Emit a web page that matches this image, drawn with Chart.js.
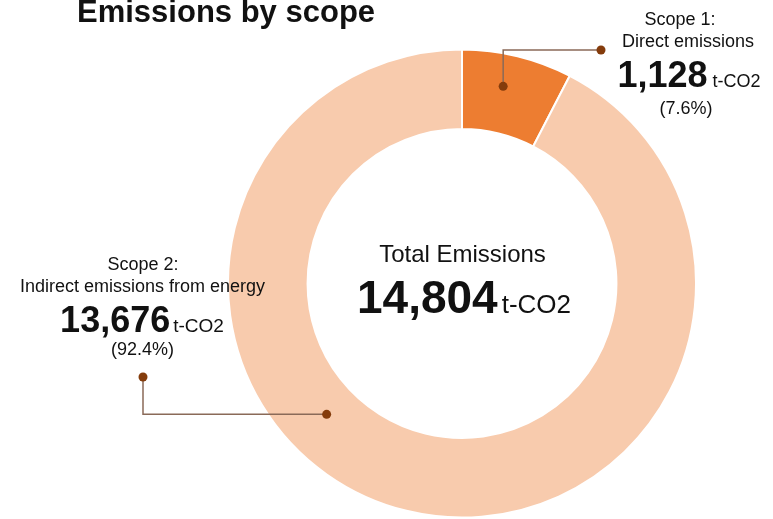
<!DOCTYPE html>
<html>
<head>
<meta charset="utf-8">
<script src="https://cdn.jsdelivr.net/npm/chart.js@4.4.0/dist/chart.umd.min.js"></script>
<style>
    html, body { margin: 0; background: #fff; }
    canvas { display: block; }
</style>
</head>
<body>
<canvas id="chart" width="773" height="519"></canvas>
<script>
const title = 'Emissions by scope'
const scopes = ['Scope 1:', 'Scope 2:']
const scopeNames = ['Direct emissions', 'Indirect emissions from energy']
const emissions = [1128, 13676]
const shares = ['(7.6%)', '(92.4%)']
const totalLabel = 'Total Emissions'
const total = 14804
const unit = 't-CO2'
const colors = ['#ED7D31', '#F8CBAD']

const FONT = '"Liberation Sans", Arial, sans-serif'
const fmt = n => n.toLocaleString('en-US')

// point inside an arc, as fractions of its angle span and ring width
function pointOn(arc, fa, fr) {
    const p = arc.getProps(['x', 'y', 'startAngle', 'endAngle', 'innerRadius', 'outerRadius'], true)
    const a = p.startAngle + fa * (p.endAngle - p.startAngle)
    const r = p.innerRadius + fr * (p.outerRadius - p.innerRadius)
    return { x: p.x + r * Math.cos(a), y: p.y + r * Math.sin(a) }
}

function text(ctx, str, x, y, size, bold, align = 'center') {
    ctx.font = (bold ? 'bold ' : '') + size + 'px ' + FONT
    ctx.textAlign = align
    ctx.fillText(str, x, y)
}

// big number followed by a smaller unit, centred as one group
function valueLine(ctx, value, cx, y, bigSize, unitSize, gap) {
    ctx.font = 'bold ' + bigSize + 'px ' + FONT
    const w1 = ctx.measureText(value).width
    ctx.font = unitSize + 'px ' + FONT
    const w2 = ctx.measureText(unit).width
    const x0 = cx - (w1 + gap + w2) / 2
    text(ctx, value, x0, y, bigSize, true, 'left')
    text(ctx, unit, x0 + w1 + gap, y, unitSize, false, 'left')
}

function dot(ctx, x, y) {
    ctx.beginPath()
    ctx.arc(x, y, 4.5, 0, Math.PI * 2)
    ctx.fill()
}

const labelsPlugin = {
    id: 'labels',
    afterDraw(chart) {
        const { ctx } = chart
        const arcs = chart.getDatasetMeta(0).data
        const cx = arcs[0].x
        ctx.save()
        ctx.textBaseline = 'alphabetic'
        ctx.fillStyle = '#111'

        // title
        text(ctx, title, 77, 22, 31, true, 'left')

        // centre
        text(ctx, totalLabel, cx + 0.5, 262, 24, false)
        valueLine(ctx, fmt(total), cx + 2, 313, 46, 26, 4)

        // scope 1 (right top)
        text(ctx, scopes[0], 680, 25, 18, false)
        text(ctx, scopeNames[0], 688, 47, 18, false)
        valueLine(ctx, fmt(emissions[0]), 689, 87, 36, 18, 5)
        text(ctx, shares[0], 686, 114, 18, false)

        // scope 2 (left)
        text(ctx, scopes[1], 143, 270, 18, false)
        text(ctx, scopeNames[1], 142.5, 292, 18, false)
        valueLine(ctx, fmt(emissions[1]), 142, 332, 36, 19, 3)
        text(ctx, shares[1], 142.5, 355, 18, false)

        // leader lines
        const p1 = pointOn(arcs[0], 0.43, 0.59)
        const p2 = pointOn(arcs[1], 0.597, 0.425)
        const l1 = { x: 601, y: 50 }
        const l2 = { x: 143, y: 377 }
        ctx.strokeStyle = '#8a6a58'
        ctx.lineWidth = 1.5
        ctx.beginPath()
        ctx.moveTo(p1.x, p1.y)
        ctx.lineTo(p1.x, l1.y)
        ctx.lineTo(l1.x, l1.y)
        ctx.moveTo(p2.x, p2.y)
        ctx.lineTo(l2.x, p2.y)
        ctx.lineTo(l2.x, l2.y)
        ctx.stroke()
        ctx.fillStyle = '#843C0C'
        dot(ctx, p1.x, p1.y)
        dot(ctx, l1.x, l1.y)
        dot(ctx, p2.x, p2.y)
        dot(ctx, l2.x, l2.y)
        ctx.restore()
    }
}

new Chart(document.getElementById('chart'), {
    type: 'doughnut',
    data: {
        labels: scopes.map((s, i) => s + ' ' + scopeNames[i]),
        datasets: [
            {
                data: emissions,
                backgroundColor: colors,
                borderColor: '#ffffff',
                borderWidth: 2
            }
        ]
    },
    options: {
        responsive: false,
        animation: false,
        cutout: '66%',
        layout: {
            padding: { left: 227, right: 76, top: 48, bottom: 0 }
        },
        plugins: {
            legend: { display: false },
            tooltip: { enabled: false }
        }
    },
    plugins: [labelsPlugin]
})
</script>
</body>
</html>
